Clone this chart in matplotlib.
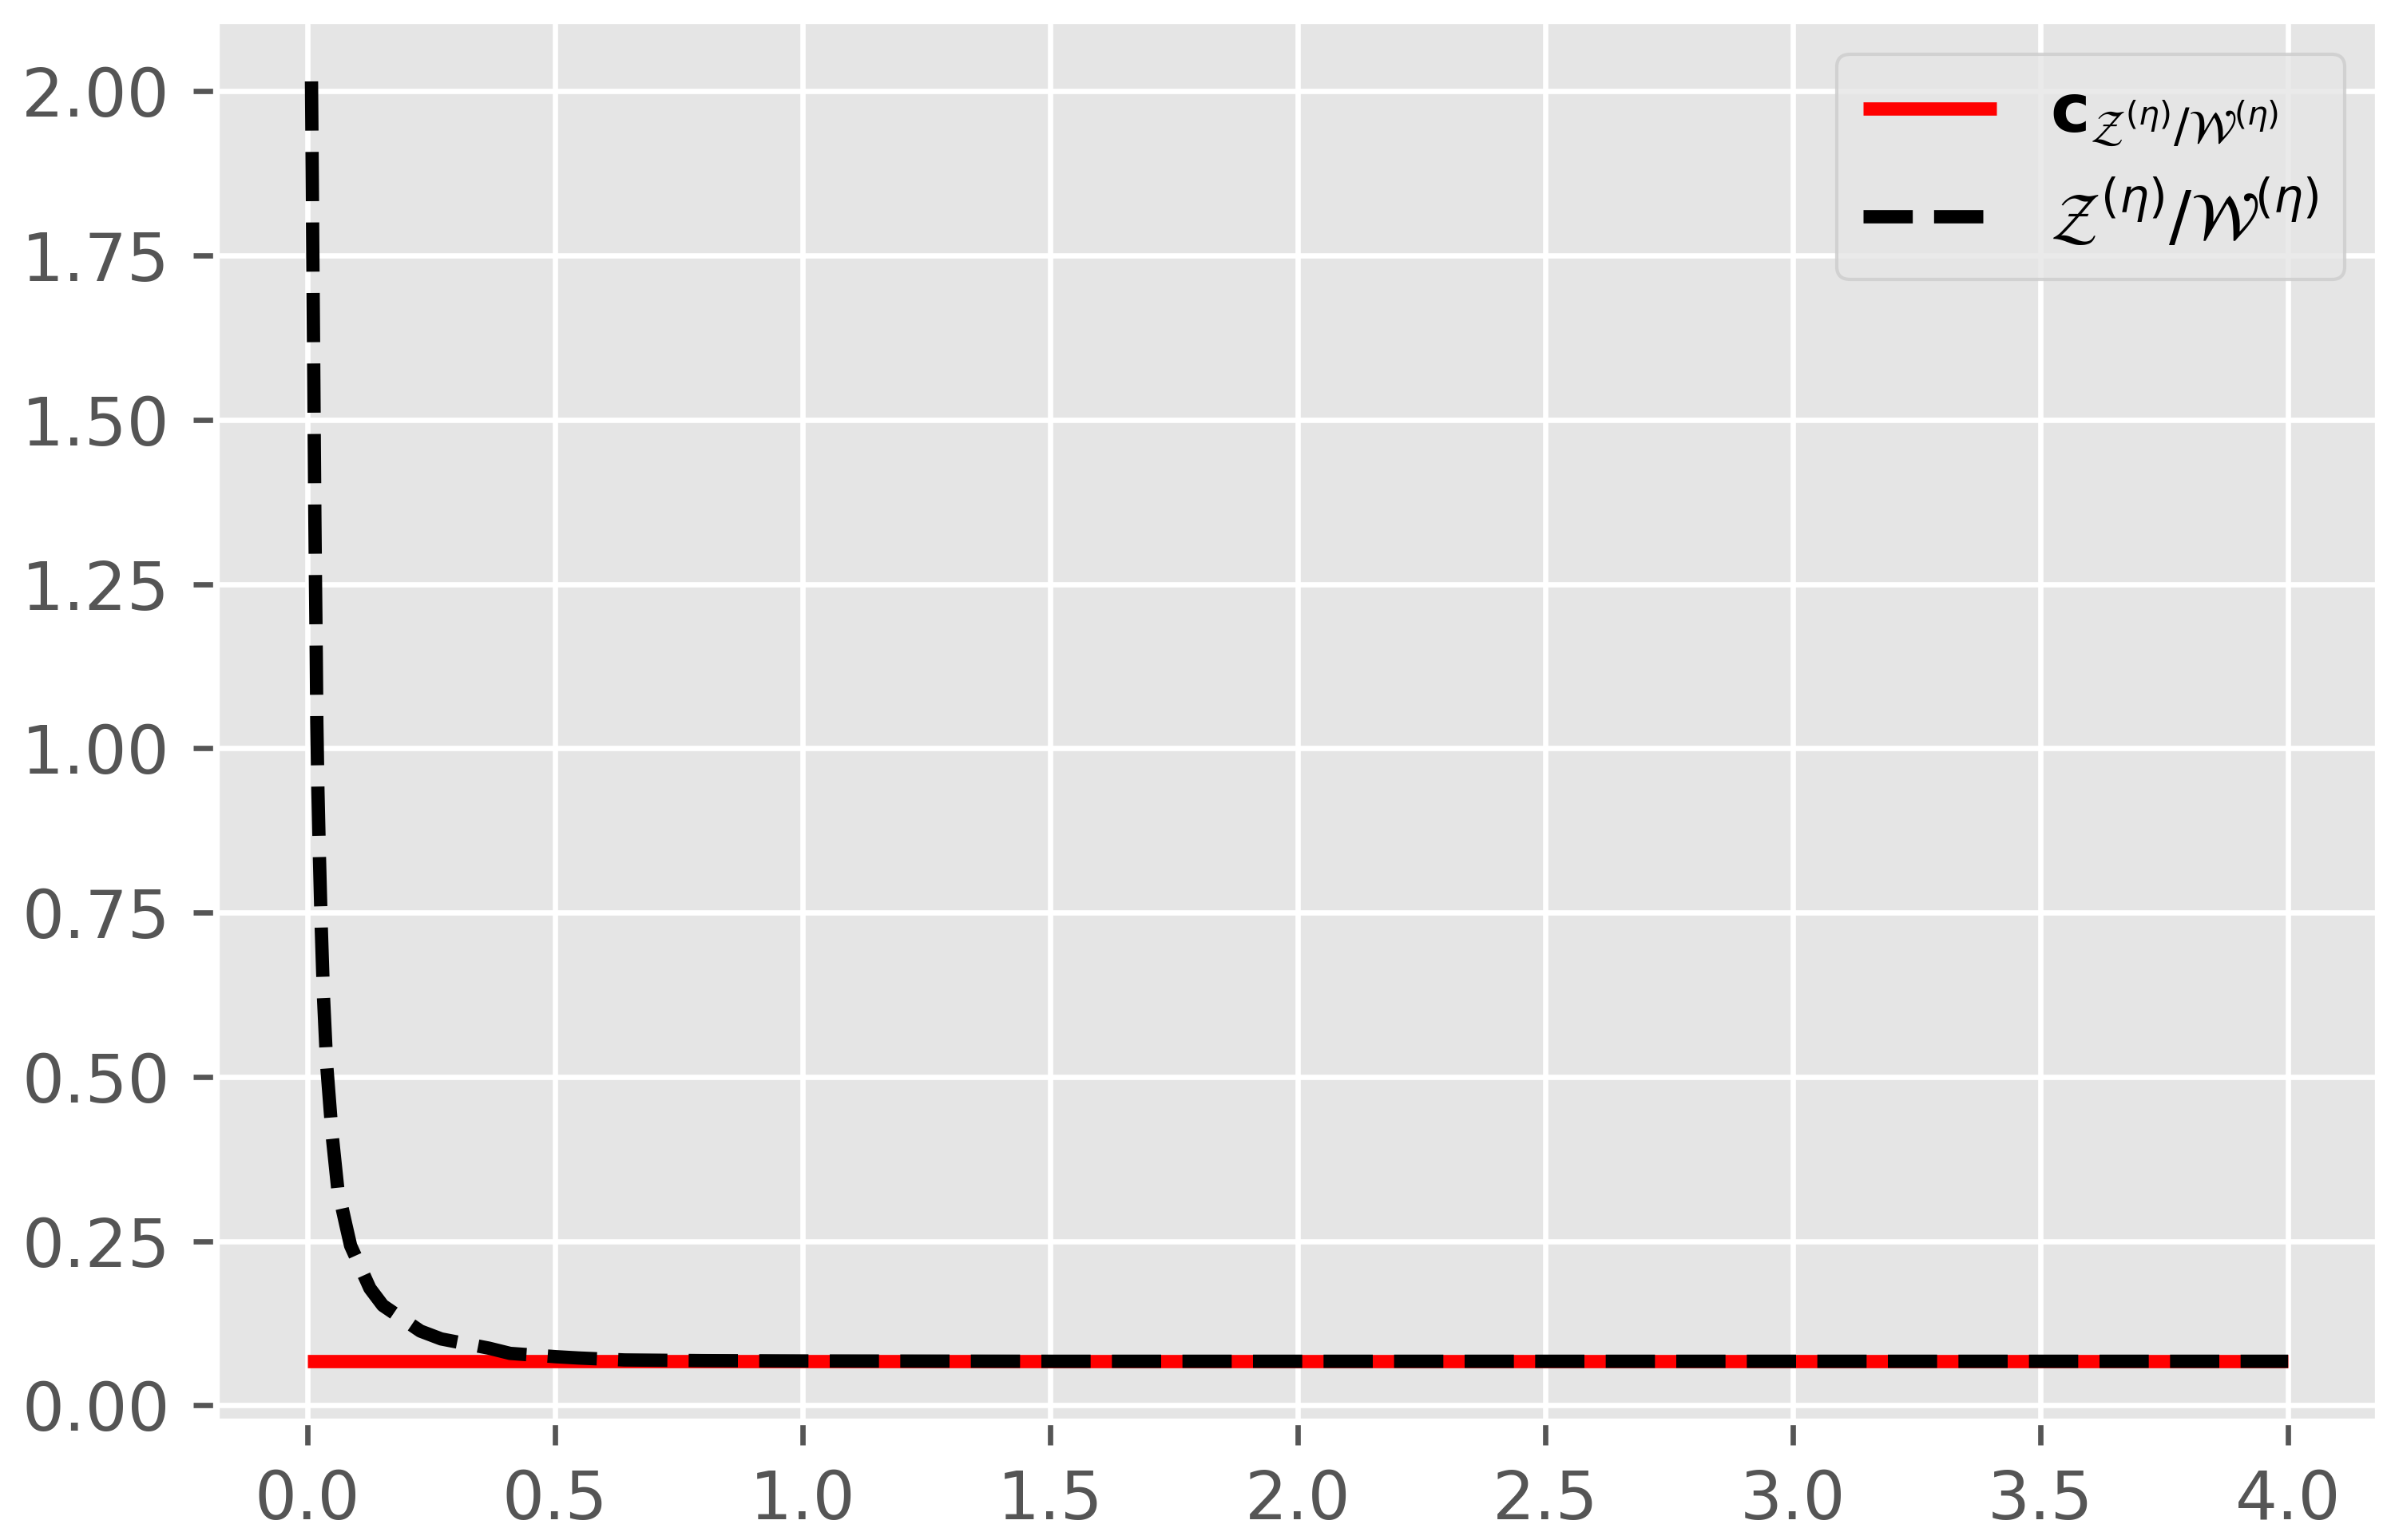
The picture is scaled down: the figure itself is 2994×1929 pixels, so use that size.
import matplotlib
matplotlib.use("Agg")
import matplotlib.pyplot as plt

plt.style.use("ggplot")

# ---- data ----
x_const = [0.0, 4.0]
y_const = [0.067, 0.067]

x_ratio = [0.0080, 0.0084, 0.0095, 0.0105, 0.0116, 0.0127, 0.0137, 0.0148,
           0.0161, 0.0176, 0.0188, 0.0210, 0.0242, 0.0278, 0.0323, 0.0387,
           0.0495, 0.0610, 0.0770, 0.0870, 0.1260, 0.1520, 0.2280, 0.2700,
           0.3660, 0.4090, 0.5010, 0.5470, 0.6400, 0.8000, 1.0000, 1.5000,
           2.0000, 3.0000, 4.0000]
y_ratio = [2.015, 1.979, 1.875, 1.770, 1.665, 1.561, 1.458, 1.353,
           1.250, 1.144, 1.039, 0.935, 0.830, 0.726, 0.621, 0.518,
           0.413, 0.330, 0.276, 0.243, 0.178, 0.152, 0.113, 0.101,
           0.087, 0.079, 0.074, 0.072, 0.069, 0.068, 0.0675, 0.067,
           0.067, 0.067, 0.067]

x_ticks = [0.0, 0.5, 1.0, 1.5, 2.0, 2.5, 3.0, 3.5, 4.0]
x_ticklabels = ["0.0", "0.5", "1.0", "1.5", "2.0", "2.5", "3.0", "3.5", "4.0"]
y_ticks = [0.0, 0.25, 0.5, 0.75, 1.0, 1.25, 1.5, 1.75, 2.0]
y_ticklabels = ["0.00", "0.25", "0.50", "0.75", "1.00", "1.25", "1.50", "1.75", "2.00"]

label_const = r"$\mathbf{c}_{\mathcal{Z}^{(\eta)}/\mathcal{W}^{(\eta)}}$"
label_ratio = r"$\mathcal{Z}^{(\eta)}/\mathcal{W}^{(\eta)}$"

fig = plt.figure(figsize=(2994 / 600, 1929 / 600), dpi=600)
ax = fig.add_axes([271 / 2994, 1 - 1781 / 1929, (2978 - 271) / 2994, (1781 - 26) / 1929])

ax.plot(x_const, y_const, color="red", lw=2, solid_capstyle="butt", label=label_const)
ax.plot(x_ratio, y_ratio, color="black", lw=2, ls="--", dash_capstyle="butt", label=label_ratio)

ax.set_xlim(-0.184, 4.182)
ax.set_ylim(-0.0252, 2.1073)
ax.set_xticks(x_ticks)
ax.set_xticklabels(x_ticklabels)
ax.set_yticks(y_ticks)
ax.set_yticklabels(y_ticklabels)

ax.legend(loc="upper right")

fig.savefig("out.png", dpi=600)
